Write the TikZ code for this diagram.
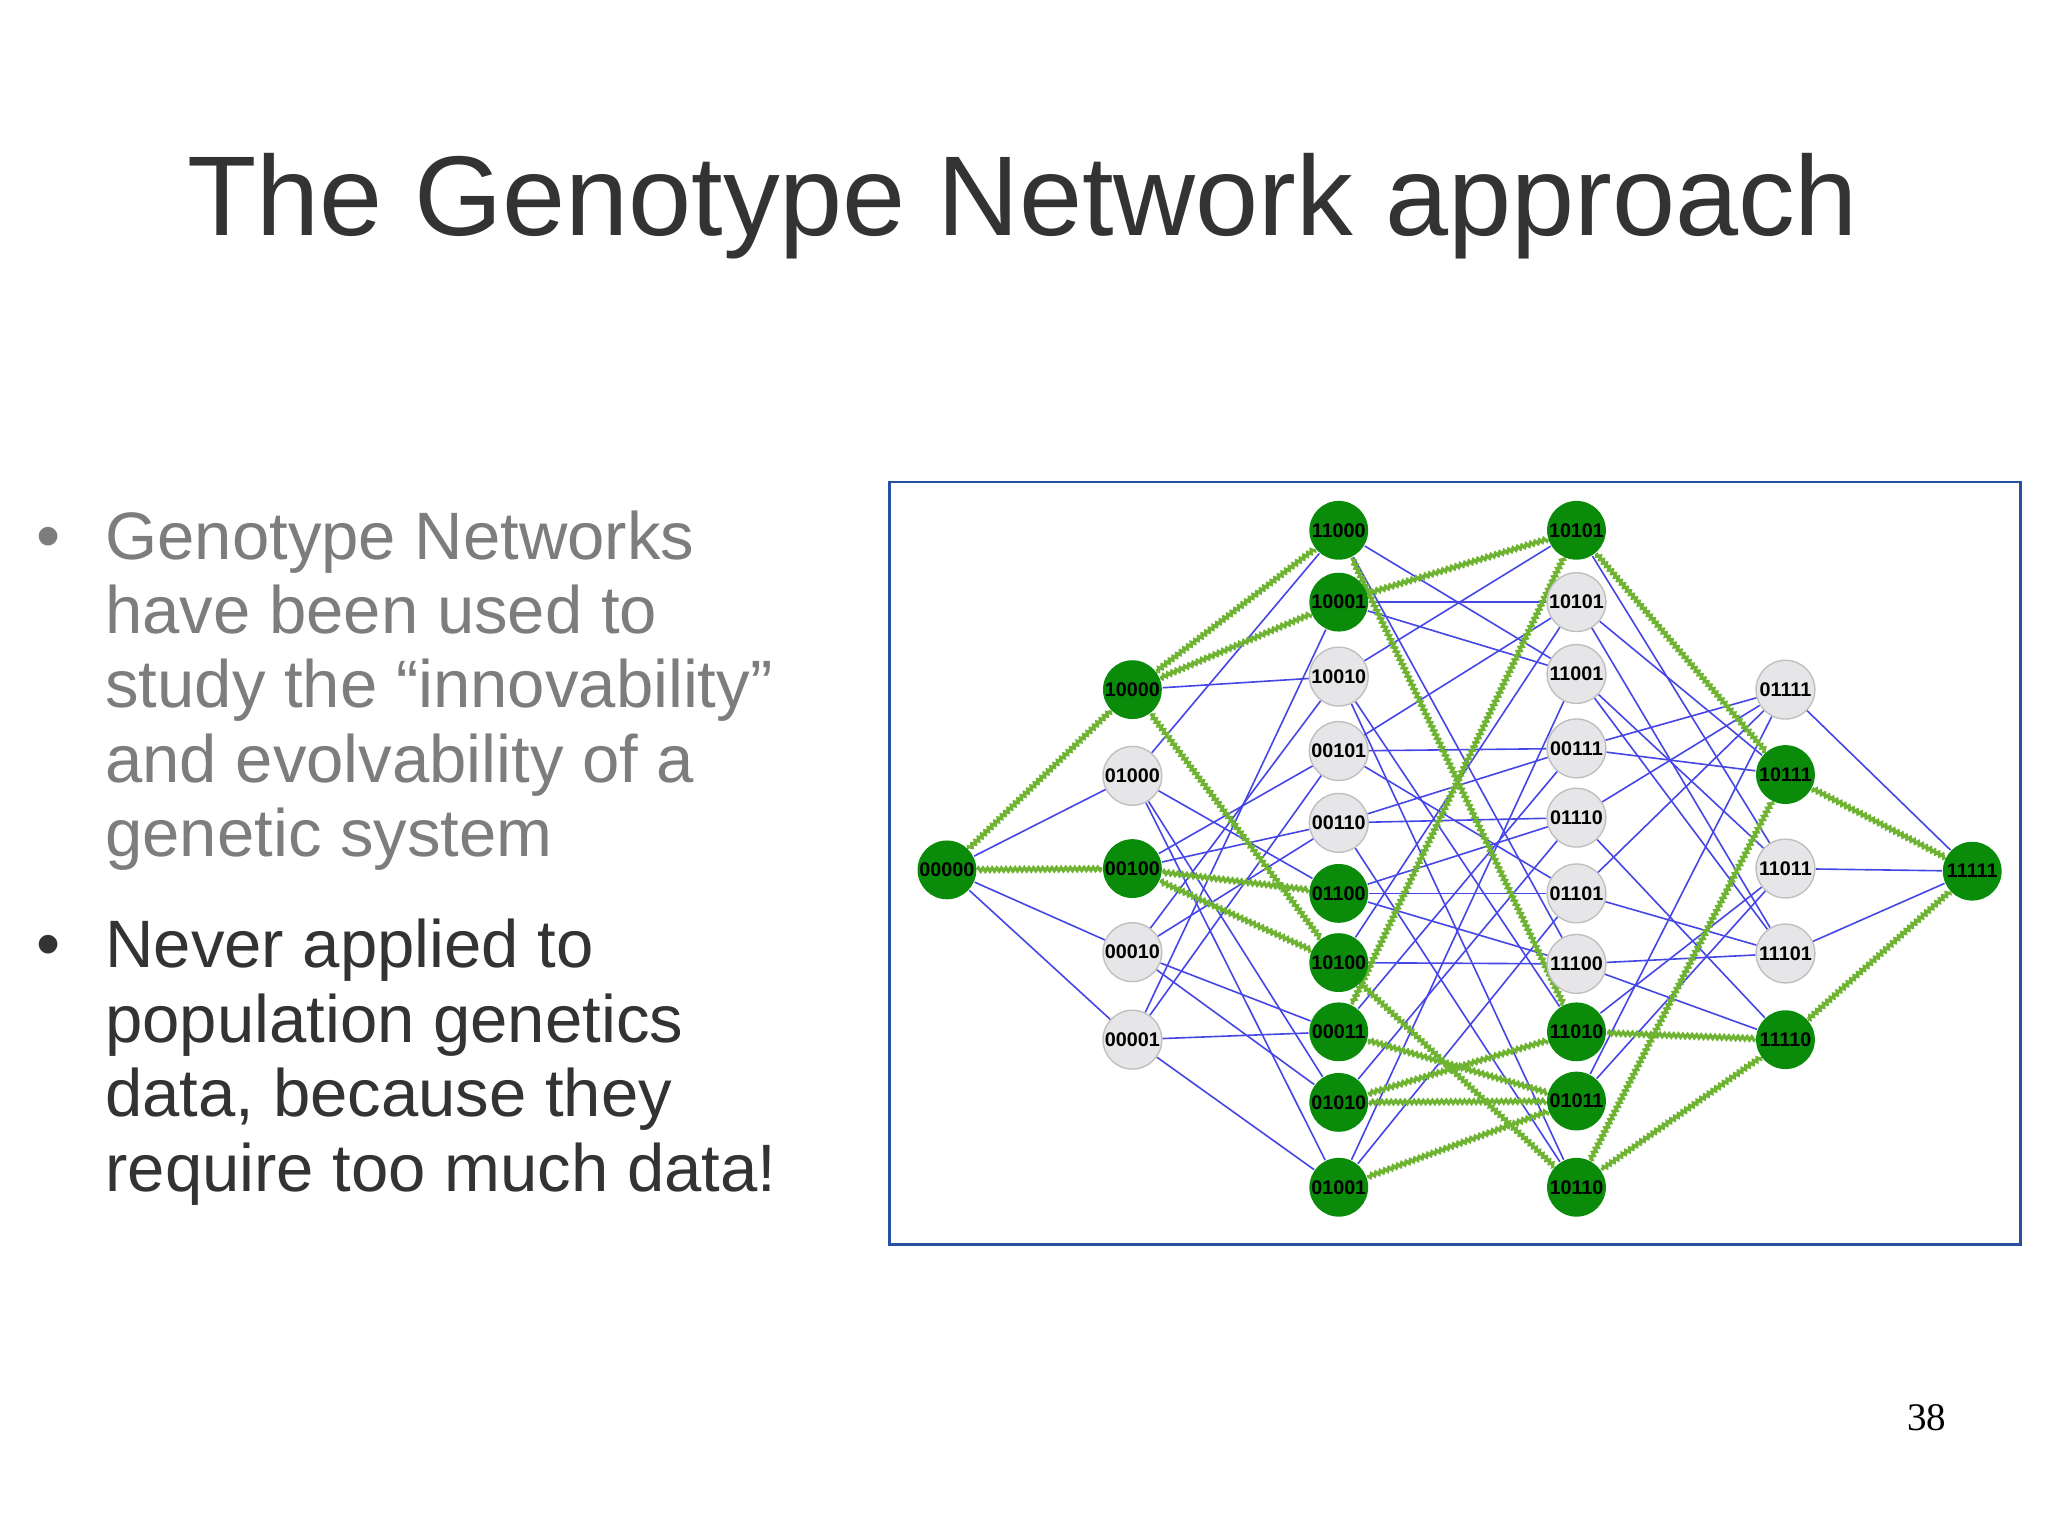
\documentclass[tikz,border=0pt]{standalone}
\usepackage{fontspec}
\setmainfont{Liberation Sans}
\newfontfamily\serifnum{Liberation Serif}
\usetikzlibrary{decorations.pathmorphing,backgrounds}
\definecolor{gnode}{RGB}{10,140,10}
\definecolor{gedge}{RGB}{110,180,50}
\definecolor{bedge}{RGB}{70,70,230}
\definecolor{frameblue}{RGB}{40,80,160}
\definecolor{greytxt}{RGB}{125,125,125}
\definecolor{darktxt}{RGB}{51,51,51}
\definecolor{gfill}{RGB}{230,230,232}
\tikzset{
  gn/.style={circle,fill=gnode,minimum size=0.45cm,inner sep=0pt,font=\fontsize{4.3}{5}\selectfont\bfseries},
  wn/.style={circle,fill=gfill,draw=gray!50,line width=0.3pt,minimum size=0.45cm,inner sep=0pt,font=\fontsize{4.3}{5}\selectfont\bfseries},
  be/.style={bedge,line width=0.35pt},
  ge/.style={gedge,line width=0.7pt,decorate,decoration={zigzag,amplitude=0.35pt,segment length=1pt}},
  bul/.style={anchor=base west,inner sep=0pt,font=\fontsize{14.6}{15}\selectfont}
}
\begin{document}
\begin{tikzpicture}[x=0.01cm,y=-0.01cm]
\useasboundingbox (0,0) rectangle (1568,1175);
\node[anchor=base,inner sep=0pt,text=darktxt,font=\fontsize{24.7}{28}\selectfont] (title) at (783,180) {The Genotype Network approach};
\node[anchor=base,inner sep=0pt,text=greytxt,font=\fontsize{15}{15}\selectfont] (d1) at (37,428) {•};
\node[bul,text=greytxt] (l1) at (80,428) {Genotype Networks};
\node[bul,text=greytxt] (l2) at (80,485) {have been used to};
\node[bul,text=greytxt] (l3) at (80,542) {study the “innovability”};
\node[bul,text=greytxt] (l4) at (80,599) {and evolvability of a};
\node[bul,text=greytxt] (l5) at (80,656) {genetic system};
\node[anchor=base,inner sep=0pt,text=darktxt,font=\fontsize{15}{15}\selectfont] (d2) at (37,741) {•};
\node[bul,text=darktxt] (m1) at (80,741) {Never applied to};
\node[bul,text=darktxt] (m2) at (80,798) {population genetics};
\node[bul,text=darktxt] (m3) at (80,855) {data, because they};
\node[bul,text=darktxt] (m4) at (80,912) {require too much data!};
\node[anchor=base,inner sep=0pt,font=\serifnum\fontsize{8.5}{10}\selectfont] (pg) at (1475,1095) {38};
\draw[frameblue,line width=0.6pt] (681,369) rectangle (1547,953);
% nodes
\node[gn] (n00000) at (725,666) {00000};
\node[gn] (n10000) at (867,528) {10000};
\node[wn] (n01000) at (867,594) {01000};
\node[gn] (n00100) at (867,665) {00100};
\node[wn] (n00010) at (867,729) {00010};
\node[wn] (n00001) at (867,796) {00001};
\node[gn] (n11000) at (1025,406) {11000};
\node[gn] (n10001) at (1025,461) {10001};
\node[wn] (n10010) at (1025,518) {10010};
\node[wn] (n00101) at (1025,575) {00101};
\node[wn] (n00110) at (1025,630) {00110};
\node[gn] (n01100) at (1025,684) {01100};
\node[gn] (n10100) at (1025,737) {10100};
\node[gn] (n00011) at (1025,790) {00011};
\node[gn] (n01010) at (1025,844) {01010};
\node[gn] (n01001) at (1025,909) {01001};
\node[gn] (n10011) at (1207,406) {10101};
\node[wn] (n10101) at (1207,461) {10101};
\node[wn] (n11001) at (1207,516) {11001};
\node[wn] (n00111) at (1207,573) {00111};
\node[wn] (n01110) at (1207,626) {01110};
\node[wn] (n01101) at (1207,684) {01101};
\node[wn] (n11100) at (1207,738) {11100};
\node[gn] (n11010) at (1207,790) {11010};
\node[gn] (n01011) at (1207,843) {01011};
\node[gn] (n10110) at (1207,909) {10110};
\node[wn] (n01111) at (1367,528) {01111};
\node[gn] (n10111) at (1367,593) {10111};
\node[wn] (n11011) at (1367,665) {11011};
\node[wn] (n11101) at (1367,730) {11101};
\node[gn] (n11110) at (1367,796) {11110};
\node[gn] (n11111) at (1510,667) {11111};
\begin{scope}[on background layer]
\foreach \a/\b in {00000/01000,00000/00010,00000/00001,
  11000/01000,10001/00001,10010/10000,10010/00010,00101/00100,00101/00001,
  00110/00100,00110/00010,01100/01000,00011/00010,00011/00001,01010/01000,01010/00010,
  01001/01000,01001/00001,
  10011/10010,10101/10100,10101/10001,10101/00101,11001/11000,11001/10001,11001/01001,
  00111/00110,00111/00101,00111/00011,01110/01100,01110/01010,01110/00110,
  01101/01100,01101/01001,01101/00101,11100/11000,11100/10100,11100/01100,
  11010/10010,10110/10010,10110/00110,
  01111/00111,01111/01011,01111/01101,01111/01110,10111/00111,10111/10101,
  11011/01011,11011/10011,11011/11001,11011/11010,11101/01101,11101/10101,11101/11001,11101/11100,
  11110/01110,11110/11100,
  11111/01111,11111/11011,11111/11101}
  \draw[be] (n\a) -- (n\b);
\foreach \a/\b in {00000/10000,00000/00100,11000/10000,10001/10000,01100/00100,10100/10000,10100/00100,
  10011/10001,10011/00011,11010/11000,11010/01010,01011/01010,01011/01001,01011/00011,
  10110/10100,10111/10011,10111/10110,11110/10110,11110/11010,11111/10111,11111/11110}
  \draw[ge] (n\a) -- (n\b);
\end{scope}
\end{tikzpicture}
\end{document}
